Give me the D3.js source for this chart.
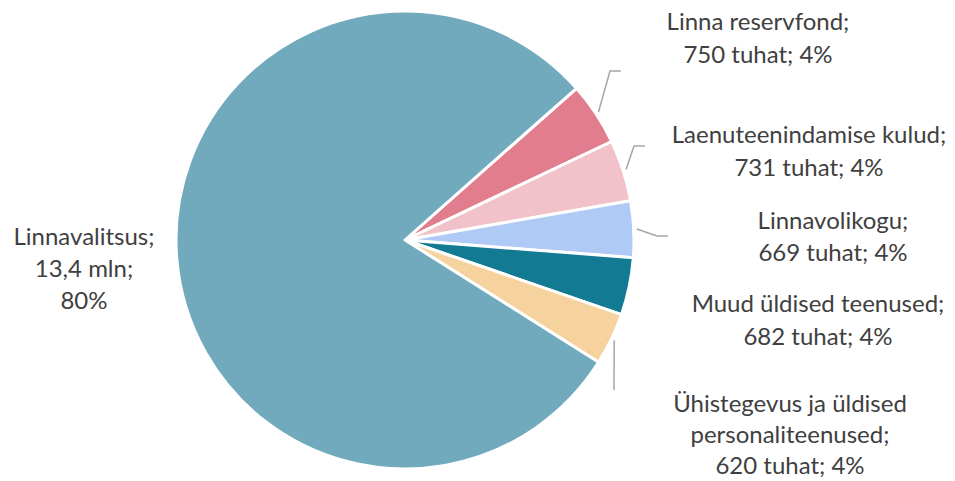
<!DOCTYPE html>
<html lang="et">
<head>
    <meta charset="UTF-8">
    <title>Kulud</title>
    <script src="https://d3js.org/d3.v7.min.js"></script>
    <style>
        body {
            margin: 0;
            background-color: white;
        }
        #chart text {
            font-family: Lato, "Open Sans", sans-serif;
            font-size: 24px;
            fill: #404040;
        }
    </style>
</head>
<body>
    <div id="chart"></div>
    <script>
        // data, in thousands of euros
        const categories = [
            "Linna reservfond",
            "Laenuteenindamise kulud",
            "Linnavolikogu",
            "Muud üldised teenused",
            "Ühistegevus ja üldised personaliteenused",
            "Linnavalitsus"
        ];
        const values = [750, 731, 669, 682, 620, 13400];
        const colors = ["#e27d8d", "#f2c2ca", "#aecaf5", "#127a93", "#f6d39e", "#71aabd"];

        // label lines as they wrap in the picture
        const labelLines = [
            ["Linna reservfond;", "{v}; {p}"],
            ["Laenuteenindamise kulud;", "{v}; {p}"],
            ["Linnavolikogu;", "{v}; {p}"],
            ["Muud üldised teenused;", "{v}; {p}"],
            ["Ühistegevus ja üldised", "personaliteenused;", "{v}; {p}"],
            ["Linnavalitsus;", "{v};", "{p}"]
        ];

        // label placement: center x, first baseline y, line step, leader elbow/end
        const labelLayout = [
            { x: 758, y: 30, step: 33, elbow: [610, 71], end: [621, 71] },
            { x: 809, y: 143, step: 33, elbow: [634, 146], end: [645, 146] },
            { x: 833, y: 229, step: 32, elbow: [657, 236], end: [668, 236] },
            { x: 818, y: 312, step: 33, elbow: null, end: null },
            { x: 790, y: 412, step: 31, elbow: null, end: [614, 390] },
            { x: 84, y: 245, step: 32, elbow: null, end: null }
        ];

        const width = 955, height = 481;
        const cx = 405, cy = 240, radius = 229;

        const svg = d3.select("#chart").append("svg")
            .attr("width", width)
            .attr("height", height);

        const total = d3.sum(values);
        const startDeg = 48.5;

        const pie = d3.pie()
            .sort(null)
            .value(d => d)
            .startAngle(startDeg * Math.PI / 180)
            .endAngle((startDeg + 360) * Math.PI / 180);

        const arcs = pie(values);

        const arc = d3.arc().innerRadius(0).outerRadius(radius);
        const outerArc = d3.arc().innerRadius(radius + 3).outerRadius(radius + 3);

        const g = svg.append("g").attr("transform", `translate(${cx},${cy})`);

        g.selectAll("path.slice")
            .data(arcs)
            .join("path")
            .attr("class", "slice")
            .attr("d", arc)
            .attr("fill", (d, i) => colors[i])
            .attr("stroke", "white")
            .attr("stroke-width", 3)
            .attr("stroke-linejoin", "round");

        // leader lines
        arcs.forEach((d, i) => {
            const lay = labelLayout[i];
            if (!lay.end) return;
            const p = outerArc.centroid(d);
            const pts = [[p[0] + cx, p[1] + cy]];
            if (lay.elbow) pts.push(lay.elbow);
            pts.push(lay.end);
            svg.append("polyline")
                .attr("points", pts.map(q => q.join(",")).join(" "))
                .attr("fill", "none")
                .attr("stroke", "#a6a6a6")
                .attr("stroke-width", 1.5);
        });

        function fmtValue(v) {
            if (v >= 1000) return (v / 1000).toFixed(1).replace(".", ",") + " mln";
            return v + " tuhat";
        }

        // labels
        values.forEach((v, i) => {
            const lay = labelLayout[i];
            const pct = Math.round(v / total * 100) + "%";
            const t = svg.append("text")
                .attr("text-anchor", "middle");
            labelLines[i].forEach((ln, j) => {
                t.append("tspan")
                    .attr("x", lay.x)
                    .attr("y", lay.y + j * lay.step)
                    .text(ln.replace("{v}", fmtValue(v)).replace("{p}", pct));
            });
        });
    </script>
</body>
</html>
